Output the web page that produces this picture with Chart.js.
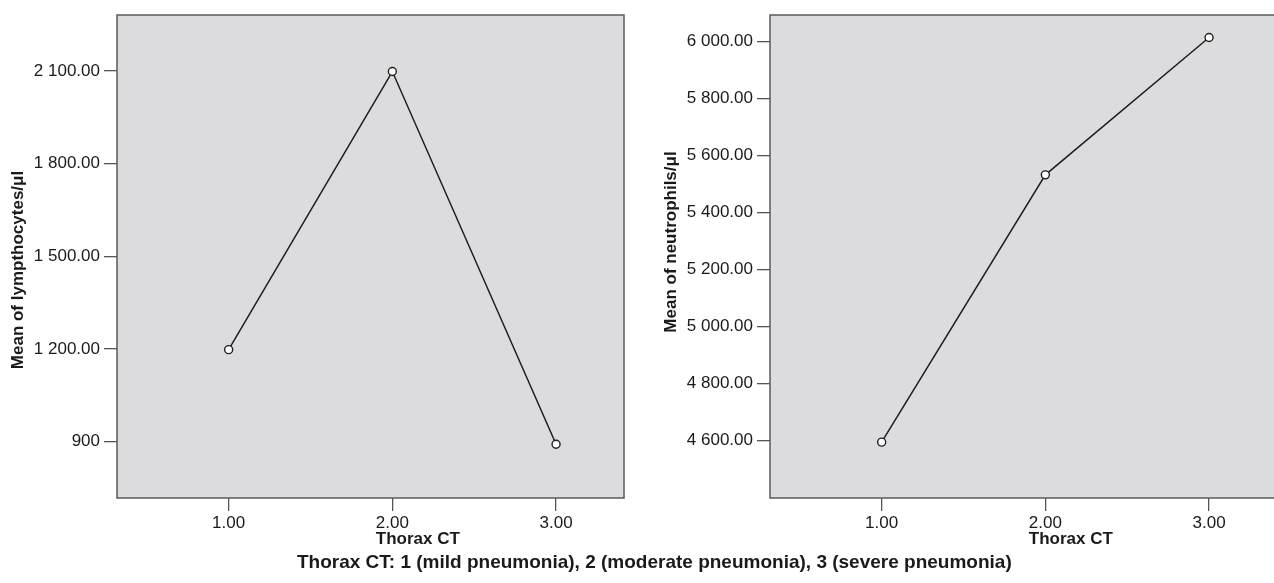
<!DOCTYPE html>
<html>
<head>
<meta charset="utf-8">
<script src="https://cdn.jsdelivr.net/npm/chart.js@4.4.1/dist/chart.umd.min.js"></script>
<style>
  html, body { margin:0; padding:0; background:#fff; overflow:hidden; width:1274px; height:583px; }
  .wrap { position:absolute; top:0; width:640px; height:583px; }
  #caption { position:absolute; left:297px; top:551px; font:bold 19px "Liberation Sans", Arial, sans-serif; color:#1a1a1a; white-space:nowrap; }
</style>
</head>
<body>
<div class="wrap" style="left:0px"><canvas id="c1" width="640" height="583"></canvas></div>
<div class="wrap" style="left:653px"><canvas id="c2" width="640" height="583"></canvas></div>
<div id="caption">Thorax CT: 1 (mild pneumonia), 2 (moderate pneumonia), 3 (severe pneumonia)</div>
<script>
// ---- data ----
const thoraxCT = [1, 2, 3];
const xTickLabels = ["1.00", "2.00", "3.00"];
const lymphocytes = [1198, 2098, 892];
const neutrophils = [4595, 5533, 6015];
const lymphTicks = [900, 1200, 1500, 1800, 2100];
const lymphTickLabels = ["900", "1 200.00", "1 500.00", "1 800.00", "2 100.00"];
const neutTicks = [4600, 4800, 5000, 5200, 5400, 5600, 5800, 6000];
const neutTickLabels = ["4 600.00", "4 800.00", "5 000.00", "5 200.00", "5 400.00", "5 600.00", "5 800.00", "6 000.00"];

const FONT = '"Liberation Sans", Arial, sans-serif';
const TEXT = '#1a1a1a';

const boxPlugin = {
  id: 'box',
  beforeDraw(chart) {
    const { ctx, chartArea: a } = chart;
    ctx.save();
    ctx.fillStyle = '#dcdcde';
    ctx.fillRect(a.left, a.top, a.right - a.left, a.bottom - a.top);
    ctx.restore();
  },
  beforeDatasetsDraw(chart) {
    const { ctx, chartArea: a } = chart;
    ctx.save();
    ctx.strokeStyle = '#5a5a5a';
    ctx.lineWidth = 1.5;
    ctx.strokeRect(a.left, a.top, a.right - a.left, a.bottom - a.top);
    ctx.restore();
  },
  afterDraw(chart, args, opts) {
    const { ctx } = chart;
    const xs = chart.scales.x;
    ctx.save();
    ctx.fillStyle = TEXT;
    ctx.textBaseline = 'alphabetic';
    ctx.font = '17px ' + FONT;
    const w = ctx.measureText(xTickLabels[1]).width;
    ctx.font = 'bold 17px ' + FONT;
    ctx.textAlign = 'left';
    ctx.fillText(opts.xTitle, xs.getPixelForValue(thoraxCT[1]) - w / 2, 544);
    ctx.translate(opts.yTitleX, opts.yTitleY);
    ctx.rotate(-Math.PI / 2);
    ctx.textAlign = 'center';
    ctx.textBaseline = 'middle';
    ctx.fillText(opts.yTitle, 0, 0);
    ctx.restore();
  }
};

function makeChart(id, values, yMin, yMax, ticks, tickLabels, yTitle, yTitleY) {
  return new Chart(document.getElementById(id), {
    type: 'line',
    data: {
      datasets: [{
        data: thoraxCT.map((x, i) => ({ x: x, y: values[i] })),
        borderColor: '#1e1e1e',
        borderWidth: 1.5,
        pointRadius: 4,
        pointBorderWidth: 1.4,
        pointBackgroundColor: '#fff',
        pointBorderColor: '#1e1e1e',
        tension: 0
      }]
    },
    options: {
      responsive: false,
      animation: false,
      layout: { padding: { top: 15, right: 16, left: 0, bottom: 0 } },
      plugins: {
        legend: { display: false },
        tooltip: { enabled: false },
        box: { xTitle: 'Thorax CT', yTitle: yTitle, yTitleX: 18, yTitleY: yTitleY }
      },
      scales: {
        x: {
          type: 'linear',
          min: 0.318, max: 3.415,
          afterBuildTicks: s => { s.ticks = thoraxCT.map(v => ({ value: v })); },
          afterFit: s => { s.height = 85; },
          border: { display: false },
          grid: { drawOnChartArea: false, drawTicks: true, tickLength: 13, color: '#555', lineWidth: 1.3 },
          ticks: {
            padding: 2, color: TEXT, maxRotation: 0, autoSkip: false,
            font: { family: FONT, size: 17 },
            callback: (v, i) => xTickLabels[i]
          }
        },
        y: {
          min: yMin, max: yMax,
          afterBuildTicks: s => { s.ticks = ticks.map(v => ({ value: v })); },
          afterFit: s => { s.width = 117; },
          border: { display: false },
          grid: { drawOnChartArea: false, drawTicks: true, tickLength: 13, color: '#555', lineWidth: 1.3 },
          ticks: {
            padding: 4, color: TEXT, autoSkip: false,
            font: { family: FONT, size: 17 },
            callback: (v, i) => tickLabels[i]
          }
        }
      }
    },
    plugins: [boxPlugin]
  });
}

makeChart('c1', lymphocytes, 718, 2281, lymphTicks, lymphTickLabels, 'Mean of lympthocytes/\u03BCl', 270);
makeChart('c2', neutrophils, 4399, 6094, neutTicks, neutTickLabels, 'Mean of neutrophils/\u03BCl', 242);
</script>
</body>
</html>
